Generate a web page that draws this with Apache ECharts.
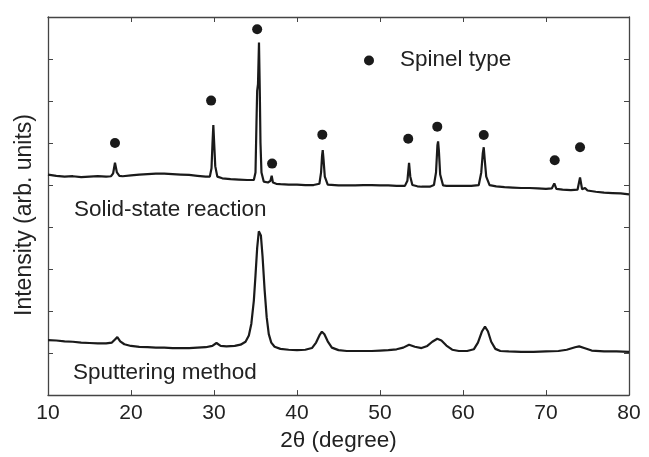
<!DOCTYPE html>
<html>
<head>
<meta charset="utf-8">
<script src="https://cdn.jsdelivr.net/npm/echarts@6/dist/echarts.min.js"></script>
<style>
    html, body { margin: 0; padding: 0; background: #fff; }
    #chart1 { width: 649px; height: 457px; }
</style>
</head>
<body>
<div id="chart1"></div>
<script>
/* XRD patterns: solid-state reaction vs sputtering method */

// x axis ticks (2theta, degree)
const xTicks = [10, 20, 30, 40, 50, 60, 70, 80];

// solid-state reaction pattern, [2theta, intensity]
const solidState = [
    [10.0, 5.25], [11.0, 5.22], [12.0, 5.20], [13.0, 5.21], [14.0, 5.19], [15.0, 5.20],
    [16.0, 5.21], [17.0, 5.20], [17.6, 5.21], [17.85, 5.28], [18.07, 5.53], [18.3, 5.30],
    [18.6, 5.22], [19.0, 5.21], [20.0, 5.23], [21.0, 5.25], [22.0, 5.26], [23.0, 5.27],
    [24.0, 5.27], [25.0, 5.26], [26.0, 5.25], [27.0, 5.24], [28.0, 5.22], [29.0, 5.20],
    [29.5, 5.20], [29.7, 5.40], [29.82, 6.00], [29.92, 6.43], [30.02, 6.00], [30.15, 5.45],
    [30.4, 5.20], [31.0, 5.16], [32.0, 5.14], [33.0, 5.13], [34.0, 5.12], [34.8, 5.12],
    [35.0, 5.30], [35.12, 6.50], [35.2, 7.24], [35.3, 7.40], [35.42, 8.39], [35.52, 7.20],
    [35.6, 6.00], [35.72, 5.30], [36.0, 5.08], [36.5, 5.06], [36.8, 5.10], [36.95, 5.22],
    [37.1, 5.06], [37.5, 5.03], [38.0, 5.02], [39.0, 5.01], [40.0, 5.01], [41.0, 5.00],
    [42.0, 5.00], [42.7, 5.03], [42.9, 5.30], [43.02, 5.70], [43.1, 5.83], [43.2, 5.60],
    [43.35, 5.20], [43.7, 5.01], [45.0, 4.99], [46.0, 4.99], [47.0, 4.99], [48.0, 5.00],
    [49.0, 5.00], [50.0, 4.99], [51.0, 4.99], [52.0, 4.98], [53.0, 4.98], [53.3, 5.10],
    [53.5, 5.53], [53.65, 5.20], [53.9, 5.00], [54.5, 4.97], [55.0, 4.96], [56.0, 4.96],
    [56.5, 5.00], [56.75, 5.30], [56.92, 5.95], [57.0, 6.04], [57.1, 5.80], [57.25, 5.25],
    [57.6, 4.99], [58.0, 4.98], [59.0, 4.98], [60.0, 4.98], [61.0, 4.98], [61.9, 5.00],
    [62.2, 5.30], [62.38, 5.75], [62.5, 5.90], [62.62, 5.60], [62.8, 5.20], [63.2, 5.00],
    [64.0, 4.97], [65.0, 4.95], [66.0, 4.94], [67.0, 4.93], [68.0, 4.93], [69.0, 4.92],
    [70.0, 4.91], [70.7, 4.92], [71.0, 5.04], [71.25, 4.91], [72.0, 4.89], [73.0, 4.88],
    [73.8, 4.89], [74.1, 5.18], [74.35, 4.90], [74.7, 4.93], [75.0, 4.87], [76.0, 4.84],
    [77.0, 4.82], [78.0, 4.81], [79.0, 4.80], [80.0, 4.78]
];

// sputtering method pattern, [2theta, intensity]
const sputtering = [
    [10.0, 1.31], [11.0, 1.30], [12.0, 1.28], [13.0, 1.27], [14.0, 1.25], [15.0, 1.24],
    [16.0, 1.23], [17.0, 1.23], [17.7, 1.25], [18.1, 1.33], [18.35, 1.38], [18.7, 1.28],
    [19.2, 1.21], [20.0, 1.17], [21.0, 1.15], [22.0, 1.14], [23.0, 1.13], [24.0, 1.13],
    [25.0, 1.12], [26.0, 1.12], [27.0, 1.12], [28.0, 1.13], [29.0, 1.14], [29.8, 1.17],
    [30.3, 1.24], [30.8, 1.17], [31.5, 1.16], [32.5, 1.17], [33.2, 1.20], [33.8, 1.27],
    [34.2, 1.42], [34.5, 1.70], [34.8, 2.25], [35.0, 2.85], [35.2, 3.50], [35.4, 3.90],
    [35.5, 3.94], [35.65, 3.80], [35.85, 3.30], [36.1, 2.50], [36.35, 1.85], [36.6, 1.45],
    [36.9, 1.25], [37.3, 1.15], [38.0, 1.10], [39.0, 1.08], [40.0, 1.07], [41.0, 1.08],
    [41.8, 1.12], [42.3, 1.25], [42.7, 1.42], [43.0, 1.51], [43.3, 1.45], [43.7, 1.28],
    [44.2, 1.13], [45.0, 1.07], [46.0, 1.05], [47.0, 1.05], [48.0, 1.05], [49.0, 1.05],
    [50.0, 1.06], [51.0, 1.07], [52.0, 1.09], [52.8, 1.13], [53.5, 1.20], [54.2, 1.15],
    [55.0, 1.12], [55.7, 1.17], [56.3, 1.27], [56.9, 1.34], [57.4, 1.30], [58.0, 1.18],
    [58.7, 1.08], [59.5, 1.05], [60.5, 1.05], [61.3, 1.09], [61.8, 1.25], [62.3, 1.52],
    [62.65, 1.63], [63.0, 1.52], [63.4, 1.27], [63.9, 1.10], [64.5, 1.05], [65.5, 1.04],
    [67.0, 1.03], [68.5, 1.03], [70.0, 1.04], [71.5, 1.05], [72.5, 1.08], [73.5, 1.14],
    [74.0, 1.16], [74.6, 1.12], [75.5, 1.06], [77.0, 1.04], [78.5, 1.04], [80.0, 1.03]
];

// spinel peak markers
const spinelTheta = [18.07, 29.65, 35.2, 37.0, 43.05, 53.4, 56.9, 62.5, 71.05, 74.1];
const spinelInt = [6.00, 7.01, 8.71, 5.51, 6.20, 6.10, 6.39, 6.19, 5.59, 5.90];

let chartDom = document.getElementById('chart1');
let myChart = echarts.init(chartDom);

const FONT = "'Liberation Sans', Arial, sans-serif";
const AXIS_COLOR = '#444';
const INK = '#1a1a1a';

let axisCommon = {
    type: 'value',
    min: 10,
    max: 80,
    interval: 10,
    axisLine: { show: true, onZero: false, lineStyle: { color: AXIS_COLOR, width: 1.3 } },
    axisTick: { show: true, inside: true, length: 5, lineStyle: { color: AXIS_COLOR, width: 1 } },
    splitLine: { show: false },
};

let option = {
    animation: false,
    backgroundColor: '#fff',
    grid: { left: 48, right: 20, top: 17, bottom: 56 },
    xAxis: [
        Object.assign({}, axisCommon, {
            position: 'bottom',
            name: '2θ (degree)',
            nameLocation: 'middle',
            nameGap: 28,
            nameTextStyle: { fontFamily: FONT, fontSize: 22.5, color: '#222' },
            axisLabel: {
                margin: 8,
                fontFamily: FONT,
                fontSize: 21,
                color: '#222',
                formatter: (v) => xTicks.indexOf(v) >= 0 ? String(v) : '',
            },
        }),
        Object.assign({}, axisCommon, {
            position: 'top',
            axisLabel: { show: false },
        }),
    ],
    yAxis: [
        Object.assign({}, axisCommon, {
            min: 0, max: 9, interval: 1,
            position: 'left',
            axisLabel: { show: false },
        }),
        Object.assign({}, axisCommon, {
            min: 0, max: 9, interval: 1,
            position: 'right',
            axisLabel: { show: false },
        }),
    ],
    graphic: [
        // y axis name, reads bottom-to-top
        {
            type: 'text', x: 25, y: 215, rotation: Math.PI / 2,
            style: {
                text: 'Intensity (arb. units)', font: '23px ' + FONT, fill: '#222',
                textAlign: 'center', textVerticalAlign: 'middle',
            },
        },
        {
            type: 'text', x: 74, y: 210,
            style: { text: 'Solid-state reaction', font: '22.5px ' + FONT, fill: '#222', textVerticalAlign: 'middle' },
        },
        {
            type: 'text', x: 73, y: 373,
            style: { text: 'Sputtering method', font: '22.5px ' + FONT, fill: '#222', textVerticalAlign: 'middle' },
        },
        // legend
        {
            type: 'circle', shape: { cx: 369, cy: 60.5, r: 5 },
            style: { fill: INK },
        },
        {
            type: 'text', x: 400, y: 60,
            style: { text: 'Spinel type', font: '22.5px ' + FONT, fill: '#222', textVerticalAlign: 'middle' },
        },
    ],
    series: [
        {
            name: 'Solid-state reaction',
            type: 'line',
            data: solidState,
            showSymbol: false,
            lineStyle: { color: INK, width: 2.2 },
        },
        {
            name: 'Sputtering method',
            type: 'line',
            data: sputtering,
            showSymbol: false,
            lineStyle: { color: INK, width: 2.2 },
        },
        {
            name: 'Spinel type',
            type: 'scatter',
            data: spinelTheta.map((t, i) => [t, spinelInt[i]]),
            symbol: 'circle',
            symbolSize: 10,
            itemStyle: { color: INK, opacity: 1 },
        },
    ],
};

option && myChart.setOption(option);

window.addEventListener('resize', () => {
    myChart.resize();
});
</script>
</body>
</html>
